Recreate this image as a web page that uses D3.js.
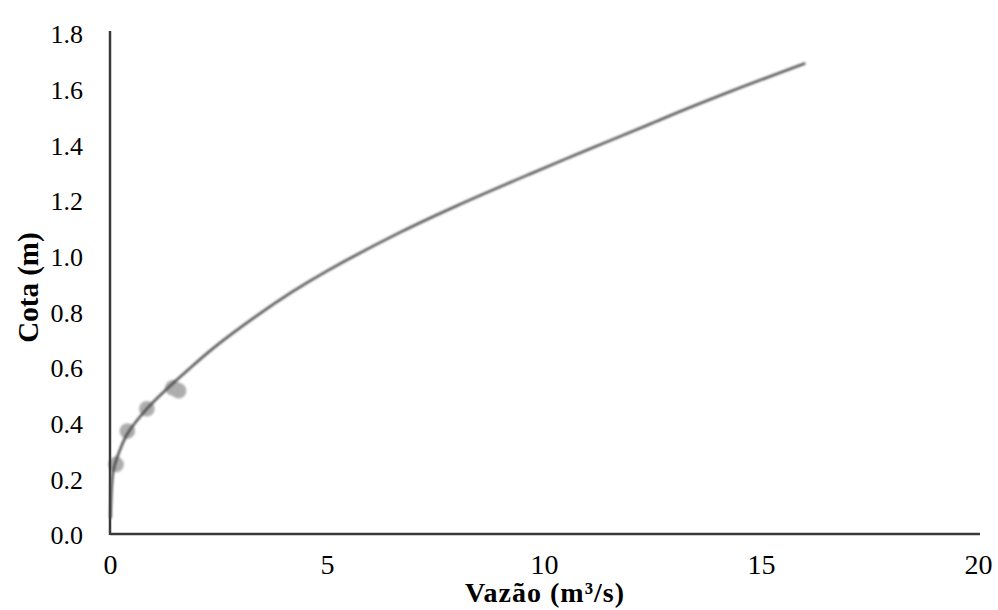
<!DOCTYPE html>
<html>
<head>
<meta charset="utf-8">
<script src="https://cdn.jsdelivr.net/npm/d3@7"></script>
<style>
  html, body { margin: 0; padding: 0; background: #fff; }
  svg { display: block; }
  text { font-family: "Liberation Serif", "Times New Roman", serif; fill: #000; }
</style>
</head>
<body>
<svg id="chart" width="998" height="610"></svg>
<script>
// Rating curve (stage vs discharge) and measured gaugings
const curveQ = [0.015, 0.04, 0.08, 0.2, 0.4, 0.85, 1.3, 1.8, 2.4, 3.3, 4.2, 5.0, 6.7, 8.0, 9.7, 11.0, 12.4, 12.7, 14.3, 16.0];
const curveH = [0.06, 0.17, 0.23, 0.29, 0.36, 0.45, 0.52, 0.59, 0.67, 0.775, 0.87, 0.945, 1.085, 1.18, 1.295, 1.38, 1.47, 1.49, 1.59, 1.69];

const obsQ = [0.14, 0.40, 0.85, 1.45, 1.58];
const obsH = [0.25, 0.37, 0.45, 0.525, 0.515];

const xTicks = [0, 5, 10, 15, 20];
const yTicks = [0.0, 0.2, 0.4, 0.6, 0.8, 1.0, 1.2, 1.4, 1.6, 1.8];

const xTitle = "Vazão (m³/s)";
const yTitle = "Cota (m)";

const svg = d3.select("#chart");
const plotLeft = 110, plotRight = 978, plotTop = 33, plotBottom = 534;

const x = d3.scaleLinear().domain([0, 20]).range([plotLeft, plotRight]);
const y = d3.scaleLinear().domain([0, 1.8]).range([plotBottom, plotTop]);

const defs = svg.append("defs");
defs.append("filter").attr("id", "soft")
  .append("feGaussianBlur").attr("stdDeviation", 0.9);

// measured points
svg.append("g").attr("filter", "url(#soft)")
  .selectAll("circle")
  .data(d3.range(obsQ.length))
  .join("circle")
  .attr("cx", i => x(obsQ[i]))
  .attr("cy", i => y(obsH[i]))
  .attr("r", 7.8)
  .attr("fill", "#adadad");

// axes: plain lines with labels, no tick marks
const xAxis = d3.axisBottom(x).tickValues(xTicks).tickSize(0).tickPadding(0).tickFormat(d3.format("d"));
const yAxis = d3.axisLeft(y).tickValues(yTicks).tickSize(0).tickPadding(0).tickFormat(d3.format(".1f"));

const gx = svg.append("g").attr("transform", `translate(0,${plotBottom})`).call(xAxis);
gx.select(".domain").attr("stroke", "#3a3a3a").attr("stroke-width", 2.5)
  .attr("d", `M${plotLeft},0H${plotRight + 2}`);
gx.selectAll(".tick text")
  .attr("font-size", 28)
  .attr("font-family", "Liberation Serif")
  .attr("fill", "#000")
  .attr("dy", null)
  .attr("y", 40);

const gy = svg.append("g").attr("transform", `translate(${plotLeft},0)`).call(yAxis);
gy.select(".domain").attr("stroke", "#3a3a3a").attr("stroke-width", 2.5)
  .attr("d", `M0,${plotTop - 2}V${plotBottom + 1}`);
gy.selectAll(".tick text")
  .attr("font-size", 26)
  .attr("font-family", "Liberation Serif")
  .attr("fill", "#000")
  .attr("x", -27)
  .attr("dy", "0.38em");

// fitted curve
const line = d3.line()
  .x(i => x(curveQ[i]))
  .y(i => y(curveH[i]))
  .curve(d3.curveCatmullRom.alpha(0.5));

svg.append("path")
  .attr("d", line(d3.range(curveQ.length)))
  .attr("fill", "none")
  .attr("stroke", "#4a4a4a")
  .attr("stroke-width", 2.4)
  .attr("stroke-linecap", "round")
  .attr("filter", "url(#soft)");

// axis titles
svg.append("text")
  .attr("x", 545).attr("y", 602)
  .attr("text-anchor", "middle")
  .attr("font-size", 28).attr("font-weight", "bold")
  .attr("letter-spacing", 1)
  .text(xTitle);

svg.append("text")
  .attr("transform", `translate(38,${(plotTop + plotBottom) / 2 + 4}) rotate(-90)`)
  .attr("text-anchor", "middle")
  .attr("font-size", 29).attr("font-weight", "bold")
  .text(yTitle);
</script>
</body>
</html>
